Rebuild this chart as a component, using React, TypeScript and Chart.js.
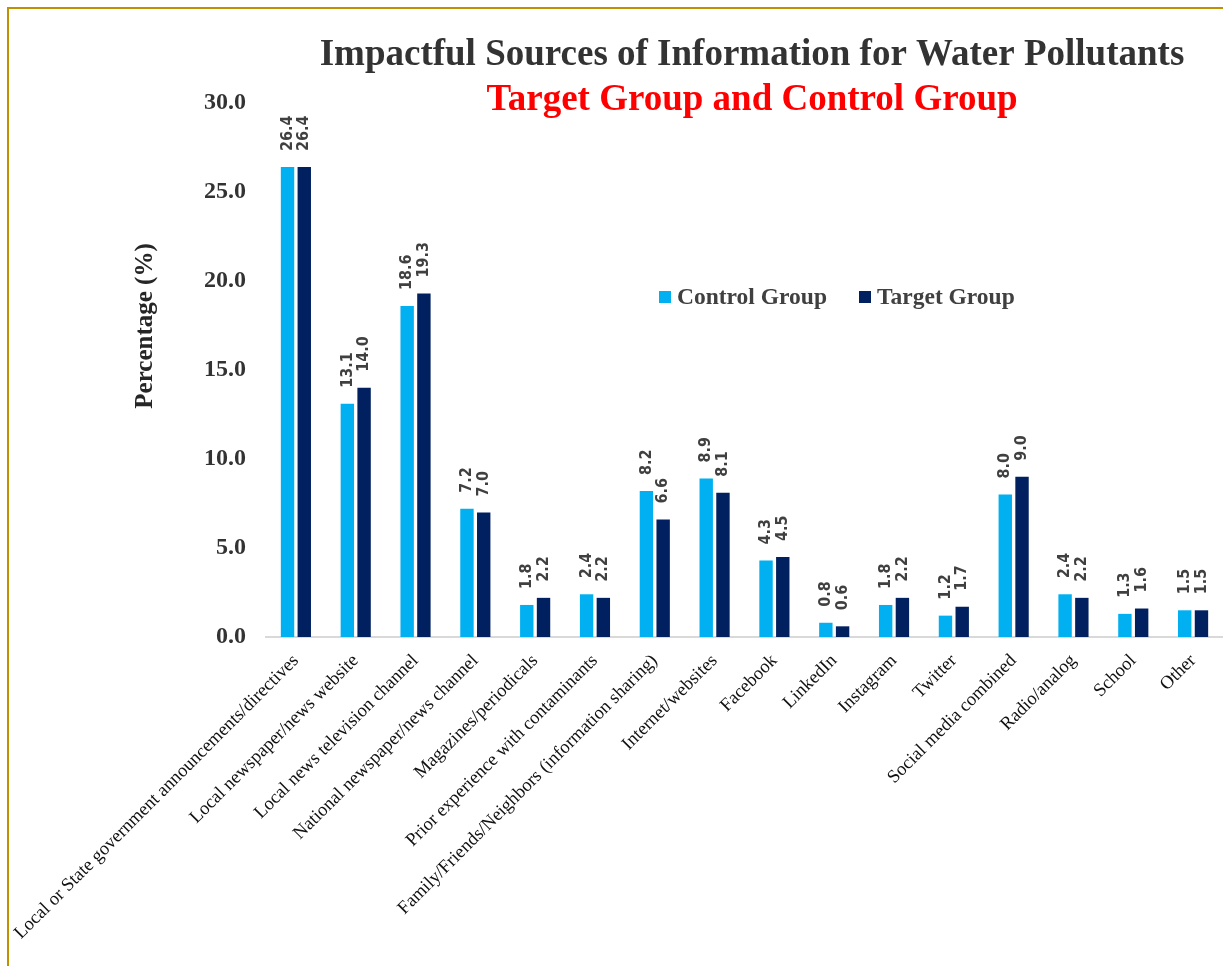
import React, { useEffect, useRef } from "react";
import { Chart, registerables } from "chart.js";

Chart.register(...registerables);

const categories = [
  "Local or State government announcements/directives",
  "Local newspaper/news website",
  "Local news television channel",
  "National newspaper/news channel",
  "Magazines/periodicals",
  "Prior experience with contaminants",
  "Family/Friends/Neighbors (information sharing)",
  "Internet/websites",
  "Facebook",
  "LinkedIn",
  "Instagram",
  "Twitter",
  "Social media combined",
  "Radio/analog",
  "School",
  "Other",
];

const controlValues = [26.4, 13.1, 18.6, 7.2, 1.8, 2.4, 8.2, 8.9, 4.3, 0.8, 1.8, 1.2, 8.0, 2.4, 1.3, 1.5];
const targetValues = [26.4, 14.0, 19.3, 7.0, 2.2, 2.2, 6.6, 8.1, 4.5, 0.6, 2.2, 1.7, 9.0, 2.2, 1.6, 1.5];

const seriesNames = ["Control Group", "Target Group"];
const seriesColors = ["#00B0F0", "#002060"];

const yMin = 0;
const yMax = 30;
const yStep = 5;

const titleText = "Impactful Sources of Information for Water Pollutants";
const subtitleText = "Target Group and Control Group";
const yAxisTitle = "Percentage (%)";

const SERIF = '"Liberation Serif", "Times New Roman", serif';

const overlayPlugin = {
  id: "overlay",
  afterDatasetsDraw(chart: any) {
    const ctx = chart.ctx;
    ctx.save();
    // data labels (rotated)
    ctx.font = 'bold 16px "DejaVu Sans Condensed", "DejaVu Sans", sans-serif';
    ctx.fillStyle = "#404040";
    ctx.textAlign = "left";
    ctx.textBaseline = "middle";
    chart.data.datasets.forEach((ds: any, di: number) => {
      const meta = chart.getDatasetMeta(di);
      meta.data.forEach((bar: any, i: number) => {
        const v = ds.data[i];
        ctx.save();
        ctx.translate(bar.x, bar.y - 16);
        ctx.rotate(-Math.PI / 2);
        ctx.fillText(v.toFixed(1), 0, 0);
        ctx.restore();
      });
    });

    // titles
    ctx.textAlign = "center";
    ctx.textBaseline = "alphabetic";
    ctx.font = `bold 37px ${SERIF}`;
    ctx.fillStyle = "#333333";
    ctx.fillText(titleText, 752, 65);
    ctx.fillStyle = "#FF0000";
    ctx.fillText(subtitleText, 752, 110);

    // y axis title
    ctx.save();
    ctx.translate(146, 326);
    ctx.rotate(-Math.PI / 2);
    ctx.font = `bold 25px ${SERIF}`;
    ctx.fillStyle = "#262626";
    ctx.textAlign = "center";
    ctx.textBaseline = "middle";
    ctx.fillText(yAxisTitle, 0, 0);
    ctx.restore();

    // legend
    const legendX = [659, 859];
    ctx.font = `bold 23.5px ${SERIF}`;
    ctx.textAlign = "left";
    ctx.textBaseline = "middle";
    seriesNames.forEach((name, i) => {
      ctx.fillStyle = seriesColors[i];
      ctx.fillRect(legendX[i], 291, 12, 12);
      ctx.fillStyle = "#404040";
      ctx.fillText(name, legendX[i] + 18, 298);
    });
    ctx.restore();
  },
};

export default function App() {
  const canvasRef = useRef<HTMLCanvasElement | null>(null);

  useEffect(() => {
    const canvas = canvasRef.current;
    if (!canvas) return;
    const chart = new Chart(canvas, {
      type: "bar",
      data: {
        labels: categories,
        datasets: [
          {
            label: seriesNames[0],
            data: controlValues,
            backgroundColor: seriesColors[0],
            categoryPercentage: 0.56,
            barPercentage: 0.8,
          },
          {
            label: seriesNames[1],
            data: targetValues,
            backgroundColor: seriesColors[1],
            categoryPercentage: 0.56,
            barPercentage: 0.8,
          },
        ],
      },
      options: {
        responsive: false,
        animation: false,
        devicePixelRatio: 1,
        layout: { padding: { left: 125, top: 103, right: 0, bottom: 10 } },
        plugins: {
          legend: { display: false },
          title: { display: false },
          tooltip: { enabled: false },
        },
        scales: {
          x: {
            grid: { display: false, drawTicks: false },
            border: { display: true, color: "#D9D9D9", width: 2 },
            ticks: {
              autoSkip: false,
              minRotation: 45,
              maxRotation: 45,
              padding: 13,
              color: "#111111",
              font: { family: SERIF, size: 18.5 },
            },
            afterFit(scale: any) {
              scale.height = 966 - 637 - 10;
              scale.paddingLeft = 0;
              scale.paddingRight = 0;
            },
          },
          y: {
            min: yMin,
            max: yMax,
            grid: { display: false, drawTicks: false },
            border: { display: false },
            ticks: {
              stepSize: yStep,
              padding: 20,
              color: "#333333",
              font: { family: SERIF, size: 24, weight: "bold" },
              callback: (v: any) => Number(v).toFixed(1),
            },
            afterFit(scale: any) {
              scale.width = 266 - 125;
              scale.paddingTop = 0;
              scale.paddingBottom = 0;
            },
          },
        },
      },
      plugins: [overlayPlugin],
    } as any);
    return () => chart.destroy();
  }, []);

  return (
    <div style={{ position: "absolute", left: 0, top: 0, width: 1223, height: 966, overflow: "hidden", background: "#fff" }}>
      <canvas ref={canvasRef} width={1223} height={966} style={{ position: "absolute", left: 0, top: 0, width: 1223, height: 966 }} />
      <div
        style={{
          position: "absolute",
          left: 7,
          top: 7,
          width: 1240,
          height: 980,
          borderTop: "2px solid #BF9000",
          borderLeft: "2px solid #BF9000",
          pointerEvents: "none",
        }}
      />
    </div>
  );
}
